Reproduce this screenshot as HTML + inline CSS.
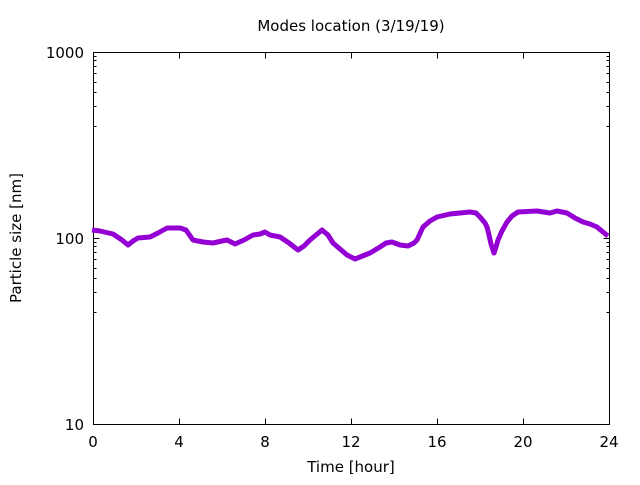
<!DOCTYPE html>
<html><head><style>body{margin:0;background:#fff}</style></head><body>
<svg width="640" height="480" xmlns="http://www.w3.org/2000/svg" font-family="DejaVu Sans, Liberation Sans, sans-serif" font-size="15">
<rect width="640" height="480" fill="#fff"/>
<g stroke="#000" stroke-width="1" fill="none">
<rect x="93.5" y="52.5" width="516" height="372"/>
<path d="M93.5 52.5h6M609.5 52.5h-6M93.5 238.5h6M609.5 238.5h-6M93.5 424.5h6M609.5 424.5h-6
M93.5 312.5h3M93.5 292.5h3M93.5 278.5h3M93.5 268.5h3M93.5 259.5h3M93.5 252.5h3M93.5 246.5h3M93.5 242.5h3
M93.5 126.5h3M93.5 106.5h3M93.5 92.5h3M93.5 82.5h3M93.5 73.5h3M93.5 66.5h3M93.5 60.5h3M93.5 56.5h3
M609.5 312.5h-3M609.5 292.5h-3M609.5 278.5h-3M609.5 268.5h-3M609.5 259.5h-3M609.5 252.5h-3M609.5 246.5h-3M609.5 242.5h-3
M609.5 126.5h-3M609.5 106.5h-3M609.5 92.5h-3M609.5 82.5h-3M609.5 73.5h-3M609.5 66.5h-3M609.5 60.5h-3M609.5 56.5h-3
M93.5 424.5v-6M179.5 424.5v-6M265.5 424.5v-6M351.5 424.5v-6M437.5 424.5v-6M523.5 424.5v-6M609.5 424.5v-6
M93.5 52.5v6M179.5 52.5v6M265.5 52.5v6M351.5 52.5v6M437.5 52.5v6M523.5 52.5v6"/>
</g>
<g text-anchor="end" fill="#000">
<text x="84" y="58">1000</text><text x="84" y="244">100</text><text x="84" y="430">10</text>
</g>
<g text-anchor="middle" fill="#000">
<text x="93" y="447">0</text><text x="179" y="447">4</text><text x="265" y="447">8</text><text x="351" y="447">12</text><text x="437" y="447">16</text><text x="523" y="447">20</text><text x="609" y="447">24</text>
<text x="351" y="472">Time [hour]</text>
<text x="351" y="31">Modes location (3/19/19)</text>
<text transform="translate(21,238) rotate(-90)">Particle size [nm]</text>
</g>
<polyline fill="none" stroke="#9400d3" stroke-width="5" stroke-linejoin="round" points="92,230 100,231 113,234 122,240 128,245 133,241 138,238 150,237 158,233 167,228 174,228 180,228 186,230 193,240 203,242 213,243 222,241 227,240 235,244 244,240 253,235 260,234 265,232 270,235 280,237 289,243 298,250 304,246 310,240 316,235 322,230 328,235 333,243 340,249 347,255 355,259 360,257 370,253 380,247 386,243 392,242 400,245 408,246 414,243 417,240 423,227 430,221 437,217 450,214 460,213 470,212 476,213 480,217 485,223 487,227 489,235 491,244 494,253 496,247 498,240 502,231 507,222 512,216 518,212 537,211 550,213 557,211 567,213 575,218 583,222 590,224 597,227 603,232 608,236"/>
</svg>
</body></html>
